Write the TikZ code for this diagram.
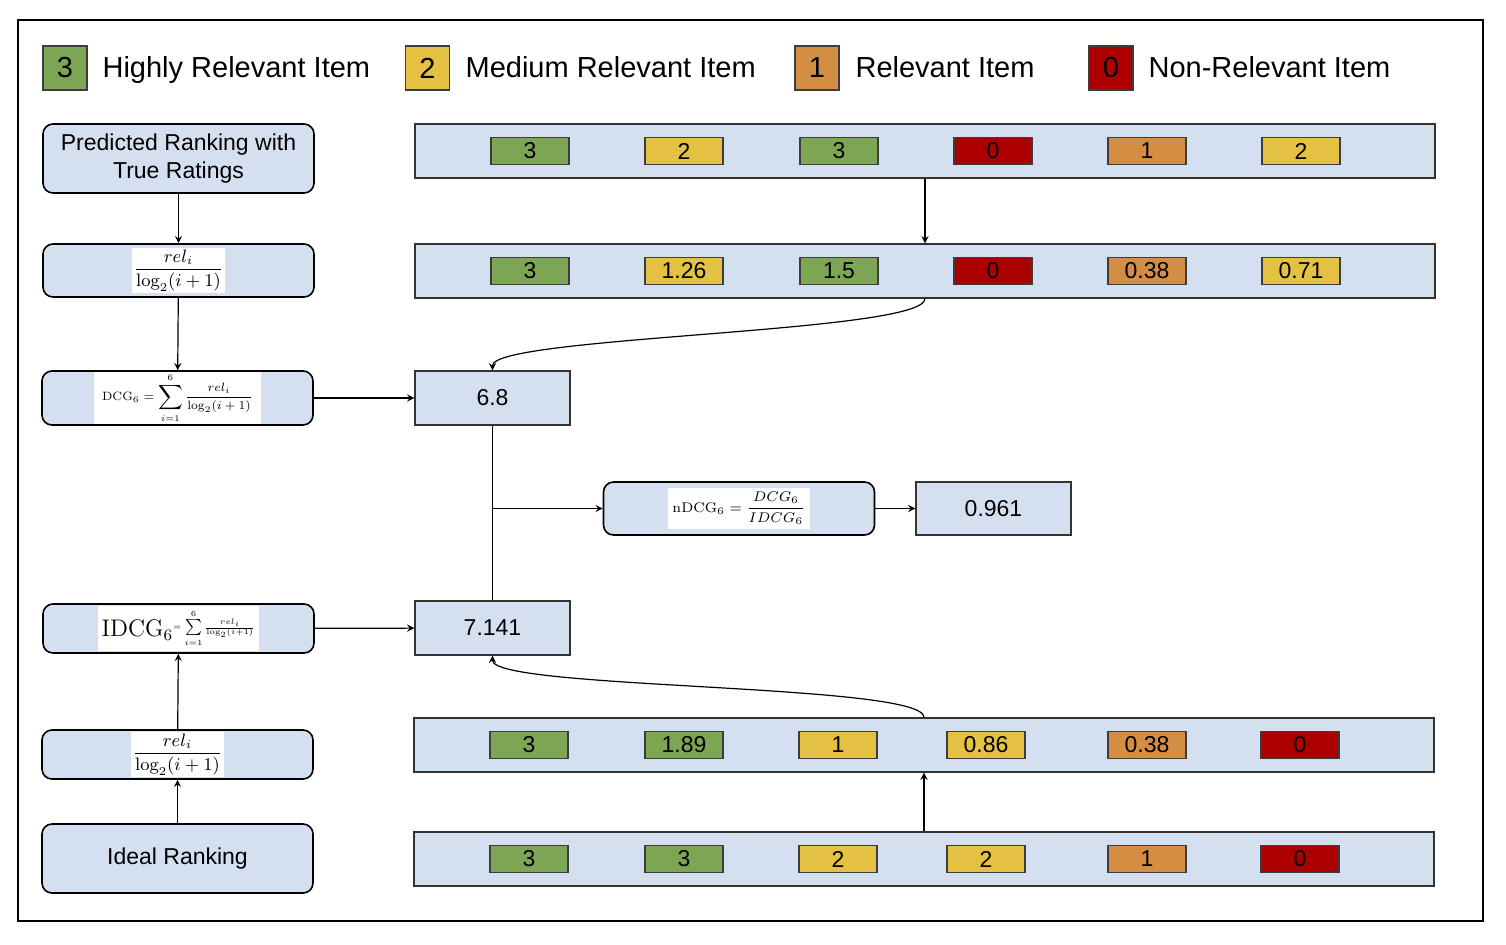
\documentclass[tikz,border=0pt]{standalone}
\usepackage{fontspec}
\usepackage{graphicx}
\newfontfamily\arialfont{Liberation Sans}
\definecolor{relgreen}{HTML}{7DA654}
\definecolor{relyellow}{HTML}{E4C142}
\definecolor{relorange}{HTML}{D48E44}
\definecolor{relred}{HTML}{AC0000}
\definecolor{rowblue}{HTML}{D4E0F0}
\definecolor{edgegray}{HTML}{3C3C3C}
\tikzset{
	stepbox/.style={draw=black,line width=0.8pt,fill=rowblue,rounded corners=5pt,minimum width=135.5pt,inner sep=0pt,align=center,font=\arialfont\fontsize{11.5}{14}\selectfont},
	rowbox/.style={draw=black!80,line width=0.7pt,fill=rowblue,minimum width=510pt,minimum height=27pt,inner sep=0pt},
	valbox/.style={draw=black!80,line width=0.7pt,fill=rowblue,minimum width=77.5pt,minimum height=27pt,inner sep=0pt,font=\arialfont\fontsize{11.5}{14}\selectfont},
	item/.style={draw=edgegray,line width=0.6pt,minimum width=39pt,minimum height=13.5pt,inner sep=0pt,font=\arialfont\fontsize{11.5}{13}\selectfont},
	keybox/.style={draw=edgegray,line width=0.6pt,minimum width=22pt,minimum height=22pt,inner sep=0pt,font=\arialfont\fontsize{14.5}{16}\selectfont},
	keytext/.style={anchor=base west,inner sep=0pt,font=\arialfont\fontsize{14.5}{17}\selectfont},
	formula/.style={fill=white,inner sep=1pt}
}
\begin{document}
\begin{tikzpicture}[>=stealth,x=0.5pt,y=-0.5pt,line width=0.6pt]

\useasboundingbox (0,0) rectangle (1506,944);
\draw[line width=1pt] (18,20) rectangle (1483,921);

%%%%%%%%%%%%%%%%%%%%%%%%%%%%%%%%%%%%%%

\node[keybox,fill=relgreen] (k3) at (65,68) {3};
\node[keytext] (t3) at (102,77) {Highly Relevant Item};
\node[keybox,fill=relyellow] (k2) at (427.5,68) {2};
\node[keytext] (t2) at (465,77) {Medium Relevant Item};
\node[keybox,fill=relorange] (k1) at (817,68) {1};
\node[keytext] (t1) at (855,77) {Relevant Item};
\node[keybox,fill=relred] (k0) at (1111,68) {0};
\node[keytext] (t0) at (1148,77) {Non-Relevant Item};

%%%%%%%%%%%%%%%%%%%%%%%%%%%%%%%%%%%%%%

\node[stepbox,minimum height=34.5pt] (pred) at (178.5,158.5) {Predicted Ranking with\\True Ratings};
\node[stepbox,minimum height=26.5pt] (gainp) at (178.5,270.5) {};
\node[formula,font=\small] at (gainp) {$\displaystyle\frac{rel_i}{\log_2(i+1)}$};
\node[stepbox,minimum height=27pt] (dcg) at (177.5,398) {};
\node[formula,inner xsep=4pt,inner ysep=0.5pt] at (dcg) {\scalebox{0.86}{\scriptsize$\displaystyle\mathrm{DCG}_6=\sum_{i=1}^{6}\frac{rel_i}{\log_2(i+1)}$}};
\node[stepbox,minimum height=24.5pt] (idcg) at (178.5,628.5) {};
\node[formula,inner sep=2pt] at (idcg) {{\large$\mathrm{IDCG}_6$}\raisebox{1.5pt}{$\vcenter{\hbox{\scalebox{0.8}{\tiny$=\sum\limits_{i=1}^{6}\frac{rel_i}{\log_2(i+1)}$}}}$}};
\node[stepbox,minimum height=24.5pt] (gaini) at (177.5,754.5) {};
\node[formula,font=\small] at (gaini) {$\displaystyle\frac{rel_i}{\log_2(i+1)}$};
\node[stepbox,minimum height=34.5pt] (ideal) at (177.5,858.5) {Ideal Ranking};

%%%%%%%%%%%%%%%%%%%%%%%%%%%%%%%%%%%%%%

\node[rowbox] (rel) at (925,151) {};
\node[item,fill=relgreen] (rel1) at (530,151) {3};
\node[item,fill=relyellow] (rel2) at (684,151) {2};
\node[item,fill=relgreen] (rel3) at (839,151) {3};
\node[item,fill=relred] (rel4) at (993,151) {0};
\node[item,fill=relorange] (rel5) at (1147,151) {1};
\node[item,fill=relyellow] (rel6) at (1301,151) {2};

\node[rowbox] (gain) at (925,271) {};
\node[item,fill=relgreen] (gain1) at (530,271) {3};
\node[item,fill=relyellow] (gain2) at (684,271) {1.26};
\node[item,fill=relgreen] (gain3) at (839,271) {1.5};
\node[item,fill=relred] (gain4) at (993,271) {0};
\node[item,fill=relorange] (gain5) at (1147,271) {0.38};
\node[item,fill=relyellow] (gain6) at (1301,271) {0.71};

\node[rowbox] (igain) at (924,745) {};
\node[item,fill=relgreen] (igain1) at (529,745) {3};
\node[item,fill=relgreen] (igain2) at (684,745) {1.89};
\node[item,fill=relyellow] (igain3) at (838,745) {1};
\node[item,fill=relyellow] (igain4) at (986,745) {0.86};
\node[item,fill=relorange] (igain5) at (1147,745) {0.38};
\node[item,fill=relred] (igain6) at (1300,745) {0};

\node[rowbox] (irel) at (924,859) {};
\node[item,fill=relgreen] (irel1) at (529,859) {3};
\node[item,fill=relgreen] (irel2) at (684,859) {3};
\node[item,fill=relyellow] (irel3) at (838,859) {2};
\node[item,fill=relyellow] (irel4) at (986,859) {2};
\node[item,fill=relorange] (irel5) at (1147,859) {1};
\node[item,fill=relred] (irel6) at (1300,859) {0};

%%%%%%%%%%%%%%%%%%%%%%%%%%%%%%%%%%%%%%

\node[valbox] (dcgval) at (492.5,398) {6.8};
\node[valbox] (idcgval) at (492.5,628) {7.141};
\node[stepbox,minimum height=26.5pt] (ndcg) at (739,508.5) {};
\node[formula,font=\scriptsize,inner sep=2pt] at (ndcg) {$\displaystyle\mathrm{nDCG}_6=\frac{DCG_6}{IDCG_6}$};
\node[valbox,minimum height=26.5pt] (ndcgval) at (993.5,508.5) {0.961};

%%%%%%%%%%%%%%%%%%%%%%%%%%%%%%%%%%%%%%

\draw[->] (pred) -- (gainp);
\draw[->] (gainp) -- (dcg);
\draw[->] (dcg) -- (dcgval);
\draw[->] (rel) -- (gain);
\draw[->] (gain.south) to[out=-90,in=90,looseness=0.2] (dcgval.north);

\coordinate (split) at (dcgval.south |- ndcg.west);
\draw (dcgval) -- (idcgval);
\draw[->] (split) -- (ndcg);
\draw[->] (ndcg) -- (ndcgval);

\draw[->] (idcg) -- (idcgval);
\draw[->] (irel) -- (igain);
\draw[->] (igain.north) to[out=90,in=-90,looseness=0.2] (idcgval.south);
\draw[->] (ideal) -- (gaini);
\draw[->] (gaini) -- (idcg);

\end{tikzpicture}
\end{document}
